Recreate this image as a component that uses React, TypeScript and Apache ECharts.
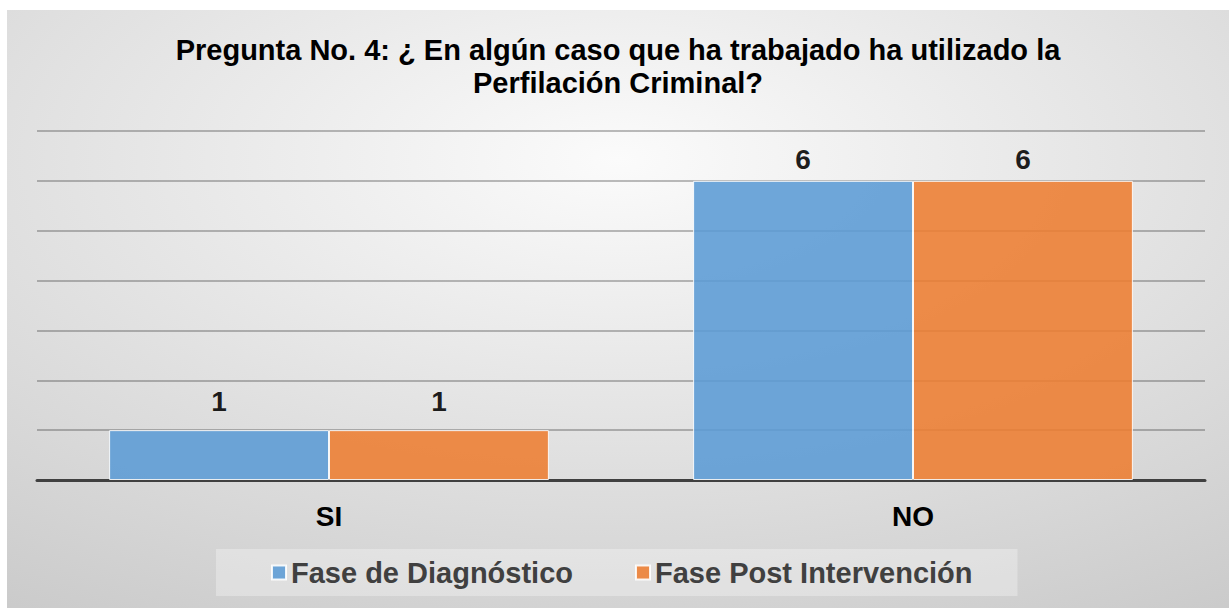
import React, { useEffect, useRef } from "react";
import * as echarts from "echarts";

const titleText = "Pregunta No. 4: ¿ En algún caso que ha trabajado ha utilizado la\nPerfilación Criminal?";
const categories = ["SI", "NO"];
const seriesNames = ["Fase de Diagnóstico", "Fase Post Intervención"];
const diagnostico = [1, 6];
const postIntervencion = [1, 6];
const colors = ["#5B9BD5", "#ED7D31"];
const labelDistances = [15, 7];

export default function App() {
  const ref = useRef<HTMLDivElement>(null);
  useEffect(() => {
    if (!ref.current) return;
    const chart = echarts.init(ref.current, undefined, { renderer: "svg" });
    const font = "Liberation Sans, Arial, sans-serif";
    const mkSeries = (name: string, data: number[], color: string) => ({
      name,
      type: "bar",
      data: data.map((v, i) => ({ value: v, label: { distance: labelDistances[i] } })),
      barGap: "0%",
      barCategoryGap: "24.7%",
      itemStyle: { color, opacity: 0.88, borderColor: "#ffffff", borderWidth: 1 },
      label: {
        show: true,
        position: "top",
        color: "#000000",
        fontWeight: "bold",
        fontSize: 28,
        fontFamily: font,
      },
    });
    chart.setOption({
      animation: false,
      backgroundColor: new echarts.graphic.RadialGradient(0.5, 0.25, 1.1, [
        { offset: 0, color: "#fbfbfb" },
        { offset: 1, color: "#c0c0c0" },
      ]),
      title: {
        text: titleText,
        left: "center",
        top: 18,
        textStyle: {
          fontFamily: font,
          fontWeight: "bold",
          fontSize: 29,
          lineHeight: 33,
          color: "#000000",
        },
      },
      legend: {
        data: seriesNames,
        left: 209,
        top: 539,
        icon: "rect",
        itemWidth: 14,
        itemHeight: 14,
        itemGap: 62,
        padding: [9, 45, 9, 55],
        backgroundColor: "rgba(255,255,255,0.3)",
        textStyle: {
          fontFamily: font,
          fontWeight: "bold",
          fontSize: 29,
          color: "#404040",
        },
      },
      grid: { left: 30, right: 24, top: 121, bottom: 128 },
      xAxis: {
        type: "category",
        data: categories,
        axisLine: { lineStyle: { color: "#404040", width: 3 } },
        axisTick: { show: false },
        axisLabel: {
          margin: 22,
          fontFamily: font,
          fontWeight: "bold",
          fontSize: 28,
          color: "#000000",
        },
      },
      yAxis: {
        type: "value",
        min: 0,
        max: 7,
        interval: 1,
        axisLabel: { show: false },
        axisLine: { show: false },
        axisTick: { show: false },
        splitLine: { lineStyle: { color: "rgba(60,60,60,0.45)", width: 1.5 } },
      },
      series: [
        mkSeries(seriesNames[0], diagnostico, colors[0]),
        mkSeries(seriesNames[1], postIntervencion, colors[1]),
      ],
    });
    return () => chart.dispose();
  }, []);
  return (
    <div
      ref={ref}
      style={{
        position: "absolute",
        left: 7,
        top: 10,
        width: 1222,
        height: 598,
        boxSizing: "border-box",
      }}
    />
  );
}
